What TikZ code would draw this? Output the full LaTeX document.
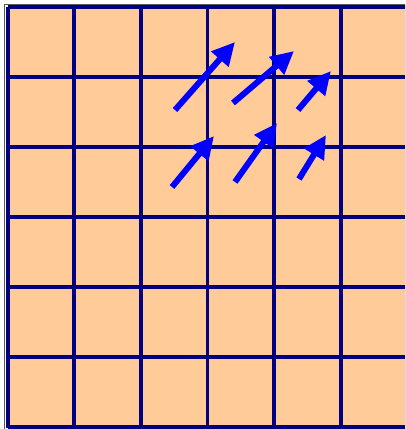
\documentclass[tikz,border=0pt]{standalone}
\usepackage{fontspec}
\usetikzlibrary{arrows.meta}
\definecolor{cellpeach}{RGB}{255,204,153}
\definecolor{gridnavy}{RGB}{0,0,128}
\definecolor{vecblue}{RGB}{0,0,255}
\definecolor{framegray}{gray}{0.35}

\begin{document}
\begin{tikzpicture}[x=1pt,y=-1pt,
  gridline/.style={draw=gridnavy,line width=3.8pt},
  vec/.style={draw=vecblue,line width=6pt,-{Triangle[length=23pt,width=22pt]}}]
  \useasboundingbox (0,0) rectangle (405,429);
  \clip (0,0) rectangle (405,429);
  \fill[white] (0,0) rectangle (405,429);
  \draw[framegray,line width=1pt] (4.5,430) -- (4.5,4.5) -- (410,4.5);
  \fill[cellpeach] (7.7,6.7) rectangle (407.3,426.7);
  \draw[gridline,shift={(7.7,6.7)},xstep=66.6pt,ystep=70pt] (0,0) grid (400,421);

  % upper row of vectors
  \coordinate (t1) at (175,110); \coordinate (h1) at (235,42);
  \coordinate (t2) at (233,103); \coordinate (h2) at (294,51);
  \coordinate (t3) at (298,110); \coordinate (h3) at (331,71);
  % lower row of vectors
  \coordinate (t4) at (172,187); \coordinate (h4) at (214,136);
  \coordinate (t5) at (235,182); \coordinate (h5) at (277,123);
  \coordinate (t6) at (299,179); \coordinate (h6) at (326,135);

  \draw[vec] (t1) -- (h1);
  \draw[vec] (t2) -- (h2);
  \draw[vec] (t3) -- (h3);
  \draw[vec] (t4) -- (h4);
  \draw[vec] (t5) -- (h5);
  \draw[vec] (t6) -- (h6);
\end{tikzpicture}
\end{document}
